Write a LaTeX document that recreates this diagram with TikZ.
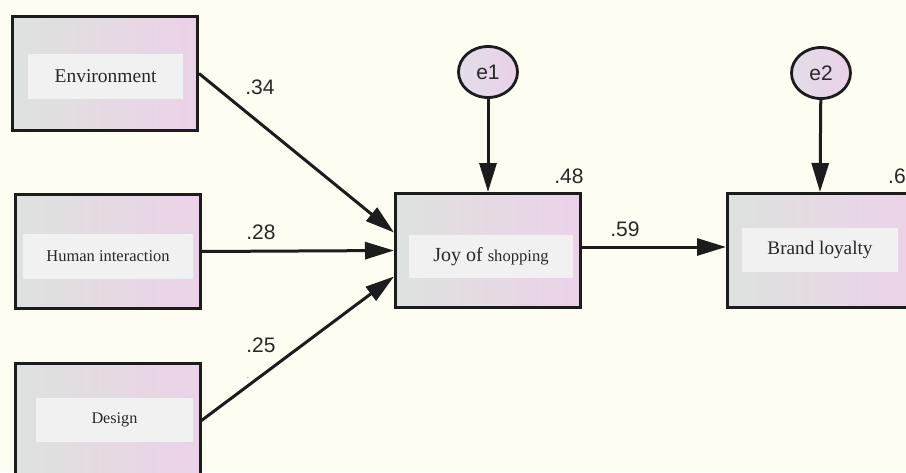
\documentclass[tikz,border=0pt]{standalone}
\usepackage{fontspec}
\setmainfont{Liberation Serif}
\newfontfamily\numfont{Liberation Sans}
\usetikzlibrary{arrows.meta,shapes.geometric}
\definecolor{bgc}{RGB}{253,253,242}
\definecolor{boxl}{RGB}{221,226,222}
\definecolor{boxr}{RGB}{236,210,232}
\definecolor{innerc}{RGB}{241,241,241}
\definecolor{linec}{RGB}{28,28,28}
\definecolor{txtc}{RGB}{40,40,40}
\definecolor{elll}{RGB}{226,222,232}
\definecolor{ellr}{RGB}{234,208,232}
\tikzset{
  varbox/.style={draw=linec, line width=3pt, rectangle, minimum width=185pt, minimum height=114pt, left color=boxl, right color=boxr, inner sep=0pt},
  lblbox/.style={rectangle, fill=innerc, inner sep=0pt, text=txtc},
  errnode/.style={draw=linec, line width=2.8pt, ellipse, minimum width=59pt, minimum height=51pt, left color=elll, right color=ellr, inner sep=0pt, font=\numfont\fontsize{21}{24}\selectfont, text=txtc},
  coef/.style={font=\numfont\fontsize{21}{24}\selectfont, text=txtc, inner sep=0pt},
  pathar/.style={draw=linec, line width=3pt, -{Triangle[length=29pt,width=17pt]}}
}
\begin{document}
\begin{tikzpicture}[x=1pt,y=-1pt]
\useasboundingbox (0,0) rectangle (906,472);
\fill[bgc] (0,0) rectangle (906,472);
\begin{scope}
\clip (0,0) rectangle (906,472);
% boxes
\node[varbox] (env) at (105,73.5) {};
\node[lblbox, minimum width=155pt, minimum height=45pt, font=\fontsize{19.5}{22}\selectfont] (envl) at (105.5,76.5) {Environment};
\node[varbox] (hum) at (107.5,251.5) {};
\node[lblbox, minimum width=170pt, minimum height=45pt, font=\fontsize{16.5}{20}\selectfont] (huml) at (108,256.5) {Human interaction};
\node[varbox] (des) at (107.5,420.5) {};
\node[lblbox, minimum width=157pt, minimum height=44pt, font=\fontsize{16.2}{20}\selectfont] (desl) at (114.5,420) {Design};
\node[varbox] (joy) at (488,250.5) {};
\node[lblbox, minimum width=164pt, minimum height=43pt, font=\fontsize{20}{22}\selectfont] (joyl) at (491,256.5) {Joy of {\fontsize{16.6}{20}\selectfont shopping}};
\node[varbox] (bra) at (820,250.5) {};
\node[lblbox, minimum width=156pt, minimum height=44pt, font=\fontsize{19.2}{22}\selectfont] (bral) at (820,250) {Brand loyalty};
% error terms
\node[errnode] (e1) at (488,72) {e1};
\node[errnode] (e2) at (821,73) {e2};
% paths
\draw[pathar] (env.east) -- ([yshift=18pt]joy.west);
\draw[pathar] (hum.east) -- (joy.west);
\draw[pathar] (des.east) -- ([yshift=-26pt]joy.west);
\draw[pathar] ([yshift=3.5pt]joy.east) -- ([yshift=3.5pt]bra.west);
\draw[pathar] (e1) -- (joy.north);
\draw[pathar] (e2) -- (bra.north);
% coefficients
\node[coef] (c1) at (260,87) {.34};
\node[coef] (c2) at (261,232) {.28};
\node[coef] (c3) at (261,345) {.25};
\node[coef] (c4) at (625,229) {.59};
\node[coef] (c5) at (569,176) {.48};
\node[coef, anchor=west] (c6) at (888,176) {.6};
\node[coef, font=\numfont\fontsize{10}{12}\selectfont, text=gray] (dot) at (248,378) {.};
\end{scope}
\end{tikzpicture}
\end{document}
